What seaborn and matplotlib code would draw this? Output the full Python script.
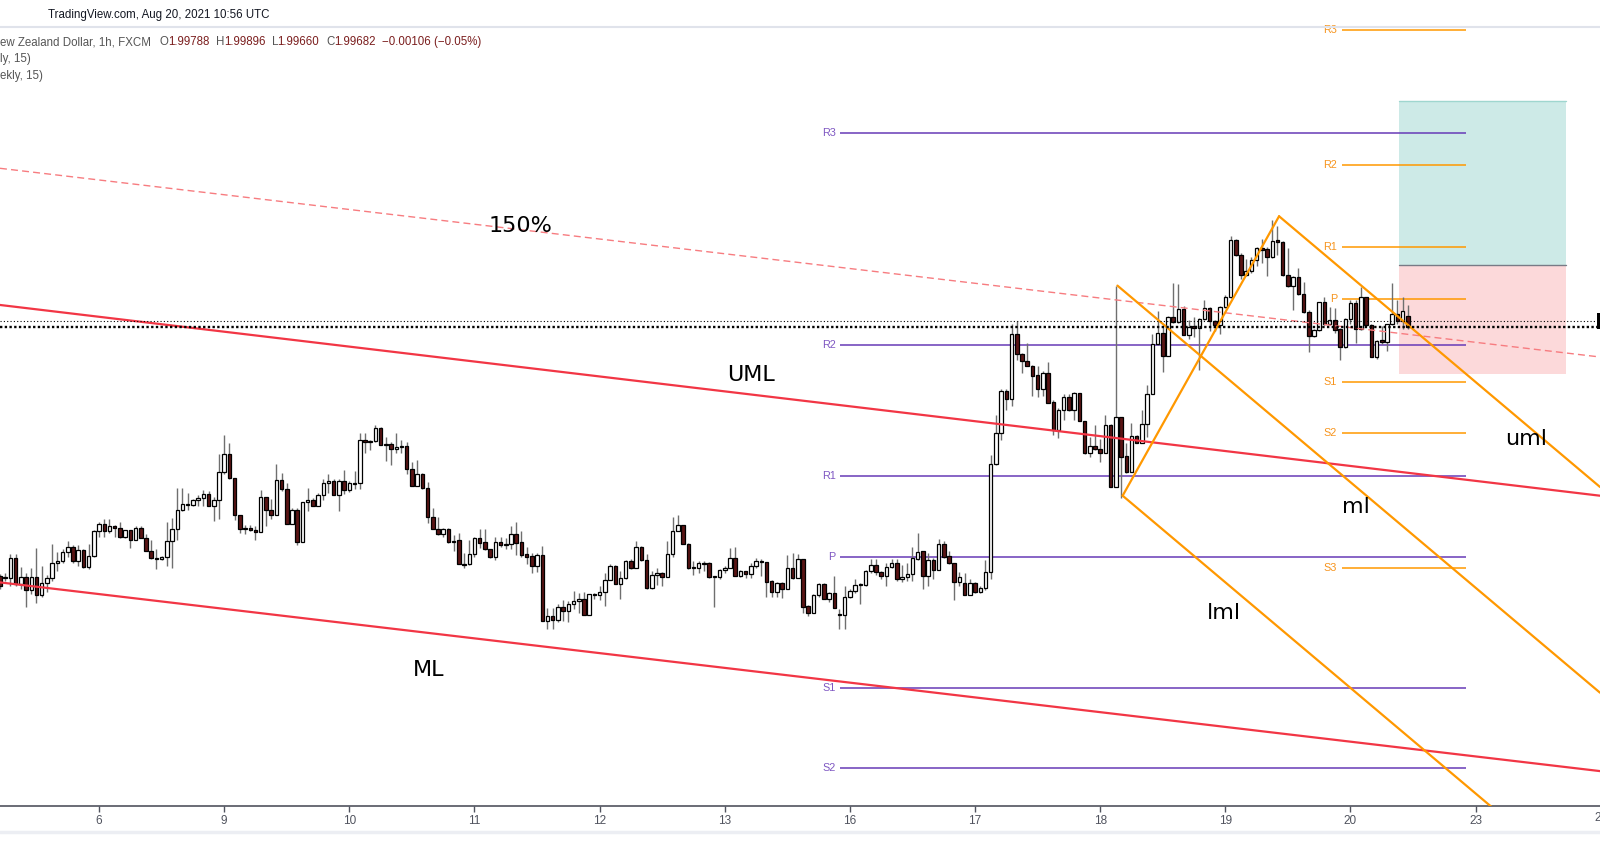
import numpy as np
import pandas as pd
import matplotlib
matplotlib.use("Agg")
import matplotlib.pyplot as plt
import seaborn as sns
from matplotlib.patches import Rectangle
from matplotlib.lines import Line2D

# GBP/NZD 1h candles, Aug 5 - Aug 20 2021
opens = [
    1.9724, 1.9723, 1.9722, 1.9742, 1.9716, 1.9723, 1.9711, 1.9723, 1.9706, 1.9717, 1.9722, 1.9737, 1.9739, 1.9748, 1.9753,
    1.9739, 1.9750, 1.9733, 1.9744, 1.9768, 1.9775, 1.9768, 1.9773, 1.9771, 1.9763, 1.9769, 1.9760, 1.9771, 1.9762, 1.9749,
    1.9742, 1.9741, 1.9743, 1.9759, 1.9770, 1.9789, 1.9795, 1.9794, 1.9799, 1.9801, 1.9805, 1.9793, 1.9799, 1.9826, 1.9844,
    1.9820, 1.9784, 1.9770, 1.9771, 1.9769, 1.9767, 1.9802, 1.9789, 1.9784, 1.9818, 1.9810, 1.9775, 1.9789, 1.9758, 1.9797,
    1.9799, 1.9793, 1.9804, 1.9815, 1.9817, 1.9804, 1.9817, 1.9809, 1.9815, 1.9815, 1.9858, 1.9856, 1.9857, 1.9869, 1.9853,
    1.9854, 1.9849, 1.9851, 1.9852, 1.9829, 1.9813, 1.9824, 1.9811, 1.9782, 1.9770, 1.9765, 1.9770, 1.9758, 1.9760, 1.9736,
    1.9736, 1.9746, 1.9762, 1.9758, 1.9751, 1.9743, 1.9758, 1.9755, 1.9756, 1.9765, 1.9758, 1.9746, 1.9744, 1.9734, 1.9745,
    1.9680, 1.9685, 1.9681, 1.9694, 1.9690, 1.9697, 1.9700, 1.9702, 1.9686, 1.9707, 1.9706, 1.9709, 1.9720, 1.9734, 1.9716,
    1.9722, 1.9739, 1.9732, 1.9753, 1.9740, 1.9713, 1.9725, 1.9727, 1.9723, 1.9746, 1.9768, 1.9774, 1.9756, 1.9733, 1.9732,
    1.9737, 1.9737, 1.9723, 1.9723, 1.9730, 1.9732, 1.9742, 1.9724, 1.9729, 1.9726, 1.9734, 1.9739, 1.9738, 1.9719, 1.9709,
    1.9717, 1.9712, 1.9732, 1.9722, 1.9741, 1.9695, 1.9688, 1.9706, 1.9716, 1.9702, 1.9708, 1.9687, 1.9686, 1.9704, 1.9710,
    1.9716, 1.9715, 1.9729, 1.9735, 1.9728, 1.9724, 1.9733, 1.9737, 1.9721, 1.9723, 1.9726, 1.9741, 1.9749, 1.9724, 1.9740,
    1.9730, 1.9756, 1.9744, 1.9737, 1.9718, 1.9717, 1.9706, 1.9717, 1.9709, 1.9713, 1.9728, 1.9834, 1.9864, 1.9906, 1.9898,
    1.9962, 1.9942, 1.9935, 1.9930, 1.9921, 1.9908, 1.9923, 1.9895, 1.9867, 1.9887, 1.9900, 1.9887, 1.9904, 1.9876, 1.9845,
    1.9852, 1.9849, 1.9845, 1.9872, 1.9812, 1.9880, 1.9842, 1.9826, 1.9862, 1.9855, 1.9873, 1.9903, 1.9952, 1.9963, 1.9940,
    1.9978, 1.9973, 1.9986, 1.9961, 1.9969, 1.9967, 1.9976, 1.9987, 1.9974, 1.9970, 1.9988, 1.9998, 2.0054, 2.0039, 2.0019,
    2.0023, 2.0034, 2.0046, 2.0045, 2.0037, 2.0054, 2.0052, 2.0019, 2.0009, 2.0017, 2.0001, 1.9983, 1.9960, 1.9965, 1.9993,
    1.9971, 1.9975, 1.9966, 1.9949, 1.9976, 1.9992, 1.9966, 1.9998, 1.9970, 1.9939, 1.9956, 1.9954, 1.9971, 1.9981, 1.9974,
    1.99788]
highs = [
    1.9726, 1.9727, 1.9746, 1.9746, 1.9733, 1.9727, 1.9732, 1.9752, 1.9734, 1.9725, 1.9756, 1.9748, 1.9751, 1.9759, 1.9755,
    1.9755, 1.9751, 1.9756, 1.9769, 1.9777, 1.9780, 1.9780, 1.9774, 1.9777, 1.9769, 1.9769, 1.9773, 1.9773, 1.9765, 1.9760,
    1.9751, 1.9744, 1.9777, 1.9781, 1.9811, 1.9811, 1.9806, 1.9800, 1.9804, 1.9809, 1.9808, 1.9802, 1.9844, 1.9863, 1.9855,
    1.9820, 1.9784, 1.9774, 1.9774, 1.9773, 1.9809, 1.9802, 1.9800, 1.9834, 1.9825, 1.9815, 1.9791, 1.9791, 1.9797, 1.9811,
    1.9801, 1.9806, 1.9819, 1.9824, 1.9819, 1.9819, 1.9828, 1.9817, 1.9827, 1.9864, 1.9864, 1.9858, 1.9872, 1.9870, 1.9861,
    1.9856, 1.9864, 1.9858, 1.9856, 1.9836, 1.9838, 1.9825, 1.9816, 1.9791, 1.9782, 1.9771, 1.9771, 1.9764, 1.9766, 1.9747,
    1.9760, 1.9763, 1.9770, 1.9770, 1.9751, 1.9763, 1.9763, 1.9762, 1.9773, 1.9777, 1.9768, 1.9753, 1.9747, 1.9747, 1.9754,
    1.9693, 1.9693, 1.9697, 1.9701, 1.9700, 1.9710, 1.9708, 1.9709, 1.9707, 1.9708, 1.9714, 1.9727, 1.9736, 1.9735, 1.9729,
    1.9740, 1.9741, 1.9759, 1.9754, 1.9746, 1.9729, 1.9732, 1.9728, 1.9759, 1.9782, 1.9784, 1.9774, 1.9757, 1.9739, 1.9739,
    1.9739, 1.9738, 1.9724, 1.9731, 1.9734, 1.9752, 1.9753, 1.9730, 1.9729, 1.9737, 1.9742, 1.9741, 1.9738, 1.9720, 1.9718,
    1.9718, 1.9745, 1.9747, 1.9746, 1.9741, 1.9696, 1.9707, 1.9717, 1.9717, 1.9709, 1.9724, 1.9692, 1.9714, 1.9712, 1.9721,
    1.9717, 1.9730, 1.9741, 1.9741, 1.9729, 1.9737, 1.9741, 1.9741, 1.9735, 1.9737, 1.9753, 1.9766, 1.9749, 1.9747, 1.9742,
    1.9761, 1.9759, 1.9749, 1.9737, 1.9728, 1.9727, 1.9721, 1.9718, 1.9714, 1.9740, 1.9843, 1.9882, 1.9908, 1.9908, 1.9971,
    1.9974, 1.9943, 1.9953, 1.9931, 1.9930, 1.9925, 1.9934, 1.9897, 1.9889, 1.9903, 1.9903, 1.9905, 1.9904, 1.9876, 1.9861,
    1.9872, 1.9859, 1.9882, 1.9873, 2.0009, 1.9880, 1.9855, 1.9874, 1.9863, 1.9887, 1.9912, 1.9962, 1.9984, 1.9969, 1.9979,
    2.0012, 2.0011, 1.9989, 1.9975, 1.9978, 1.9977, 1.9995, 1.9988, 1.9975, 1.9989, 2.0000, 2.0058, 2.0055, 2.0041, 2.0035,
    2.0037, 2.0047, 2.0055, 2.0047, 2.0073, 2.0067, 2.0053, 2.0046, 2.0018, 2.0026, 2.0013, 1.9985, 1.9966, 1.9993, 1.9998,
    1.9988, 1.9987, 1.9967, 1.9977, 1.9995, 1.9995, 2.0008, 1.9998, 1.9971, 1.9956, 1.9969, 1.9971, 2.0012, 1.9995, 1.9998,
    1.99896]
lows = [
    1.9712, 1.9719, 1.9714, 1.9714, 1.9712, 1.9694, 1.9707, 1.9698, 1.9704, 1.9709, 1.9719, 1.9729, 1.9737, 1.9743, 1.9737,
    1.9734, 1.9732, 1.9731, 1.9743, 1.9763, 1.9763, 1.9766, 1.9763, 1.9762, 1.9762, 1.9752, 1.9760, 1.9762, 1.9749, 1.9741,
    1.9731, 1.9740, 1.9734, 1.9732, 1.9760, 1.9788, 1.9789, 1.9793, 1.9793, 1.9793, 1.9793, 1.9778, 1.9780, 1.9824, 1.9819,
    1.9779, 1.9766, 1.9765, 1.9768, 1.9760, 1.9767, 1.9773, 1.9780, 1.9784, 1.9808, 1.9775, 1.9775, 1.9755, 1.9758, 1.9788,
    1.9793, 1.9793, 1.9799, 1.9806, 1.9804, 1.9788, 1.9805, 1.9807, 1.9810, 1.9810, 1.9845, 1.9848, 1.9856, 1.9853, 1.9837,
    1.9833, 1.9845, 1.9845, 1.9824, 1.9813, 1.9813, 1.9810, 1.9776, 1.9770, 1.9764, 1.9763, 1.9757, 1.9749, 1.9736, 1.9732,
    1.9735, 1.9743, 1.9752, 1.9750, 1.9742, 1.9740, 1.9753, 1.9751, 1.9751, 1.9745, 1.9743, 1.9736, 1.9727, 1.9728, 1.9680,
    1.9672, 1.9672, 1.9679, 1.9680, 1.9679, 1.9692, 1.9688, 1.9686, 1.9686, 1.9702, 1.9701, 1.9695, 1.9720, 1.9716, 1.9702,
    1.9721, 1.9731, 1.9732, 1.9739, 1.9712, 1.9712, 1.9715, 1.9714, 1.9723, 1.9743, 1.9768, 1.9756, 1.9731, 1.9725, 1.9727,
    1.9729, 1.9722, 1.9694, 1.9721, 1.9727, 1.9732, 1.9724, 1.9723, 1.9722, 1.9722, 1.9732, 1.9724, 1.9704, 1.9704, 1.9704,
    1.9703, 1.9712, 1.9721, 1.9722, 1.9688, 1.9685, 1.9688, 1.9704, 1.9702, 1.9699, 1.9693, 1.9672, 1.9672, 1.9703, 1.9708,
    1.9697, 1.9714, 1.9727, 1.9725, 1.9721, 1.9714, 1.9732, 1.9719, 1.9718, 1.9719, 1.9719, 1.9740, 1.9712, 1.9714, 1.9721,
    1.9730, 1.9742, 1.9736, 1.9701, 1.9714, 1.9706, 1.9706, 1.9708, 1.9708, 1.9711, 1.9721, 1.9833, 1.9858, 1.9887, 1.9891,
    1.9936, 1.9923, 1.9930, 1.9901, 1.9900, 1.9901, 1.9894, 1.9863, 1.9860, 1.9877, 1.9886, 1.9877, 1.9876, 1.9844, 1.9841,
    1.9848, 1.9836, 1.9845, 1.9812, 1.9812, 1.9801, 1.9825, 1.9826, 1.9855, 1.9855, 1.9861, 1.9903, 1.9951, 1.9924, 1.9940,
    1.9972, 1.9972, 1.9961, 1.9957, 1.9959, 1.9926, 1.9975, 1.9964, 1.9964, 1.9962, 1.9987, 1.9997, 2.0038, 2.0015, 2.0018,
    2.0021, 2.0028, 2.0031, 2.0018, 2.0036, 2.0039, 2.0018, 2.0008, 1.9985, 2.0000, 1.9982, 1.9944, 1.9959, 1.9964, 1.9970,
    1.9970, 1.9963, 1.9936, 1.9948, 1.9971, 1.9953, 1.9965, 1.9969, 1.9939, 1.9937, 1.9952, 1.9945, 1.9970, 1.9971, 1.9966,
    1.99660]
closes = [
    1.9714, 1.9722, 1.9742, 1.9716, 1.9723, 1.9711, 1.9723, 1.9706, 1.9717, 1.9722, 1.9737, 1.9739, 1.9748, 1.9753, 1.9739,
    1.9750, 1.9733, 1.9744, 1.9768, 1.9775, 1.9768, 1.9773, 1.9771, 1.9763, 1.9769, 1.9760, 1.9771, 1.9762, 1.9749, 1.9742,
    1.9741, 1.9743, 1.9759, 1.9770, 1.9789, 1.9795, 1.9794, 1.9799, 1.9801, 1.9805, 1.9793, 1.9799, 1.9826, 1.9844, 1.9820,
    1.9784, 1.9770, 1.9771, 1.9769, 1.9767, 1.9802, 1.9789, 1.9784, 1.9818, 1.9810, 1.9775, 1.9789, 1.9758, 1.9797, 1.9799,
    1.9793, 1.9804, 1.9815, 1.9817, 1.9804, 1.9817, 1.9809, 1.9815, 1.9814, 1.9858, 1.9856, 1.9857, 1.9869, 1.9853, 1.9854,
    1.9849, 1.9851, 1.9852, 1.9829, 1.9813, 1.9824, 1.9811, 1.9782, 1.9770, 1.9765, 1.9770, 1.9758, 1.9759, 1.9736, 1.9735,
    1.9746, 1.9762, 1.9757, 1.9751, 1.9743, 1.9758, 1.9755, 1.9756, 1.9765, 1.9757, 1.9745, 1.9743, 1.9734, 1.9745, 1.9680,
    1.9685, 1.9681, 1.9694, 1.9690, 1.9697, 1.9700, 1.9702, 1.9686, 1.9707, 1.9706, 1.9709, 1.9720, 1.9734, 1.9716, 1.9722,
    1.9739, 1.9732, 1.9753, 1.9740, 1.9713, 1.9725, 1.9727, 1.9723, 1.9746, 1.9768, 1.9774, 1.9756, 1.9732, 1.9732, 1.9737,
    1.9736, 1.9723, 1.9724, 1.9730, 1.9732, 1.9742, 1.9724, 1.9729, 1.9726, 1.9734, 1.9739, 1.9738, 1.9718, 1.9709, 1.9717,
    1.9712, 1.9732, 1.9722, 1.9741, 1.9694, 1.9688, 1.9706, 1.9716, 1.9702, 1.9708, 1.9693, 1.9686, 1.9704, 1.9710, 1.9715,
    1.9715, 1.9729, 1.9735, 1.9728, 1.9724, 1.9733, 1.9737, 1.9721, 1.9723, 1.9726, 1.9742, 1.9748, 1.9724, 1.9740, 1.9730,
    1.9756, 1.9743, 1.9737, 1.9718, 1.9723, 1.9706, 1.9717, 1.9709, 1.9713, 1.9728, 1.9834, 1.9864, 1.9906, 1.9898, 1.9962,
    1.9942, 1.9935, 1.9930, 1.9920, 1.9908, 1.9923, 1.9894, 1.9867, 1.9887, 1.9900, 1.9887, 1.9904, 1.9876, 1.9845, 1.9852,
    1.9849, 1.9845, 1.9872, 1.9812, 1.9880, 1.9841, 1.9826, 1.9862, 1.9855, 1.9873, 1.9903, 1.9952, 1.9963, 1.9940, 1.9978,
    1.9973, 1.9986, 1.9961, 1.9968, 1.9967, 1.9976, 1.9987, 1.9974, 1.9970, 1.9988, 1.9998, 2.0054, 2.0039, 2.0019, 2.0023,
    2.0034, 2.0046, 2.0044, 2.0037, 2.0053, 2.0052, 2.0019, 2.0009, 2.0017, 2.0001, 1.9983, 1.9960, 1.9965, 1.9993, 1.9971,
    1.9975, 1.9965, 1.9949, 1.9976, 1.9992, 1.9966, 1.9998, 1.9970, 1.9939, 1.9955, 1.9954, 1.9971, 1.9981, 1.9974, 1.9984,
    1.99682]

# x axis: hour index of each day's first candle
day_pos = [19, 43, 67, 91, 115, 139, 163, 187, 211, 235, 259, 283, 307]
day_labels = ['6', '9', '10', '11', '12', '13', '16', '17', '18', '19', '20', '23', '24']

# pivot points (weekly purple, daily orange)
weekly_names = ['R3', 'R2', 'R1', 'P', 'S1', 'S2']
weekly_levels = [2.0159, 1.9951, 1.9822, 1.9743, 1.9614, 1.9536]
daily_names = ['R3', 'R2', 'R1', 'P', 'S1', 'S2', 'S3']
daily_levels = [2.0260, 2.0127, 2.0047, 1.9996, 1.9914, 1.9864, 1.9732]

# drawn trend lines: (x0, y0), (x1, y1)
uml_line = [(0, 1.9990), (306.85, 1.9803)]
ml_line = [(0, 1.9718), (306.85, 1.9533)]
line_150 = [(0, 2.0124), (306.85, 1.9939)]

# pitchfork anchors A, B, C
fork_a = (214.3, 2.0009)
fork_b = (215.3, 1.9803)
fork_c = (245.3, 2.0077)

# long position tool
pos_x = (268.3, 300.3)
pos_entry, pos_target, pos_stop = 2.0029, 2.0190, 1.9922

ask_line = 1.9974

sns.set_style("white")
plt.rcParams['font.family'] = ['DejaVu Sans']

W, H = 1568.0, 851.0
fig = plt.figure(figsize=(16, 8.68), dpi=100)
ax = fig.add_axes([0, 1 - 790 / H, 1, (790 - 26) / H])
x_end = 306.85

o = np.array(opens); hi = np.array(highs); lo = np.array(lows); c = np.array(closes)
xs = np.arange(len(c))
up = c > o
dn = c < o
flat = c == o
body_lo = np.minimum(o, c)
body_h = np.maximum(np.abs(c - o), 0.00002)

# position box
ax.add_patch(Rectangle((pos_x[0], pos_entry), pos_x[1] - pos_x[0], pos_target - pos_entry,
                       fc='#cdeae7', ec='none', zorder=1))
ax.add_patch(Rectangle((pos_x[0], pos_stop), pos_x[1] - pos_x[0], pos_entry - pos_stop,
                       fc='#fcd9da', ec='none', zorder=1))
ax.plot(pos_x, [pos_target] * 2, color='#9fd6cf', lw=1, zorder=1.5)
ax.plot(pos_x, [pos_entry] * 2, color='#787b86', lw=1, zorder=1.5)

# pivots
for name, lev in zip(weekly_names, weekly_levels):
    ax.hlines(lev, 161.1, 281.2, color='#673ab7', lw=1.1, zorder=2)
    ax.text(160.3, lev, name, ha='right', va='center', fontsize=7.8, color='#7e57c2',
            family='Liberation Sans')
for name, lev in zip(daily_names, daily_levels):
    ax.hlines(lev, 257.3, 281.2, color='#ff9800', lw=1.1, zorder=2)
    ax.text(256.4, lev, name, ha='right', va='center', fontsize=7.8, color='#f7941d',
            family='Liberation Sans')

# candles
ax.vlines(xs, lo, hi, color='#6f6f6f', lw=1.0, zorder=3)
ax.bar(xs[up], body_h[up], bottom=body_lo[up], width=0.68, color='white',
       edgecolor='black', linewidth=0.9, zorder=4)
ax.bar(xs[dn], body_h[dn], bottom=body_lo[dn], width=0.68, color='#5a1414',
       edgecolor='black', linewidth=0.9, zorder=4)
ax.bar(xs[flat], body_h[flat], bottom=body_lo[flat], width=0.68, color='black',
       edgecolor='black', linewidth=0.9, zorder=4)

# red trend lines
trend = pd.DataFrame({
    'x': [p[0] for p in uml_line + ml_line],
    'y': [p[1] for p in uml_line + ml_line],
    'name': ['UML', 'UML', 'ML', 'ML'],
})
sns.lineplot(data=trend, x='x', y='y', units='name', estimator=None, color='#f23645',
             linewidth=1.6, ax=ax, legend=False, zorder=5)
ax.plot([p[0] for p in line_150], [p[1] for p in line_150], color='#f77c80', lw=1.0,
        ls=(0, (5, 3)), zorder=5)

# pitchfork
mid = ((fork_b[0] + fork_c[0]) / 2, (fork_b[1] + fork_c[1]) / 2)
slope = (mid[1] - fork_a[1]) / (mid[0] - fork_a[0])
fk = dict(color='#ff9800', lw=1.6, zorder=5, solid_capstyle='round')
ax.plot([fork_b[0], fork_c[0]], [fork_b[1], fork_c[1]], **fk)
for px, py in (fork_a, fork_b, fork_c):
    ax.plot([px, x_end], [py, py + slope * (x_end - px)], **fk)

# last price lines
ax.axhline(ask_line, color='black', lw=0.8, ls=(0, (1, 2)), zorder=6)
ax.axhline(closes[-1], color='black', lw=1.7, ls=(0, (1, 1)), zorder=6)
ax.add_patch(Rectangle((306.2, 1.9966), 2, 0.0016, fc='black', ec='none', zorder=7, clip_on=False))

# drawing labels
lab = dict(fontsize=16, color='black', ha='center', va='center', zorder=8)
ax.text(99.8, 2.0067, '150%', **lab)
ax.text(144.0, 1.9921, 'UML', **lab)
ax.text(82.2, 1.9632, 'ML', **lab)
ax.text(292.6, 1.9859, 'uml', **lab)
ax.text(260.1, 1.9792, 'ml', **lab)
ax.text(234.8, 1.9688, 'lml', **lab)

ax.set_xlim(0, x_end)
ax.set_ylim(1.9499, 2.0263)
ax.set_xlabel('')
ax.set_ylabel('')
ax.set_yticks([])
ax.set_xticks(day_pos[:-1], day_labels[:-1])
for t in ax.get_xticklabels():
    t.set_family('Liberation Sans')
ax.tick_params(axis='x', bottom=True, length=4, width=1, color='#50535e',
               labelsize=8.5, labelcolor='#50535e', pad=2.5)
for s in ('top', 'left', 'right'):
    ax.spines[s].set_visible(False)
ax.spines['bottom'].set_color('#50535e')
ax.spines['bottom'].set_linewidth(1.2)
ax.patch.set_alpha(0)
# the "24" label sits on the right edge and is cut, as in the source
fig.text((day_pos[-1] * 5.11) / W, 1 - 802 / H, day_labels[-1], ha='center', va='center',
         fontsize=8.5, color='#50535e', family='Liberation Sans')

# header and legend
fig.add_artist(Line2D([0, 1], [1 - 26 / H] * 2, color='#e0e3eb', lw=1.5))
fig.add_artist(Line2D([0, 1], [1 - 816 / H] * 2, color='#eceef3', lw=2.5))
fig.text(47 / W, 1 - 14.5 / H, 'TradingView.com, Aug 20, 2021 10:56 UTC', ha='left', va='center',
         fontsize=8.3, color='#131722', family='Liberation Sans')
gray, red = '#555555', '#7b1e1e'
legend_parts = [
    ('ew Zealand Dollar, 1h, FXCM', 0, gray),
    ('O', 156, gray), (f'{opens[-1]:.5f}', 165, red),
    ('H', 212, gray), (f'{highs[-1]:.5f}', 219.5, red),
    ('L', 267, gray), (f'{lows[-1]:.5f}', 272, red),
    ('C', 320, gray), (f'{closes[-1]:.5f}', 327, red),
    ('\u22120.00106 (\u22120.05%)', 374, red),
]
for txt, px, col in legend_parts:
    fig.text(px / W, 1 - 41.5 / H, txt, ha='left', va='center', fontsize=8.3, color=col,
             family='Liberation Sans')
fig.text(0, 1 - 57.8 / H, 'ly, 15)', ha='left', va='center', fontsize=8.3, color=gray,
         family='Liberation Sans')
fig.text(0, 1 - 74.5 / H, 'ekly, 15)', ha='left', va='center', fontsize=8.3, color=gray,
         family='Liberation Sans')

fig.savefig('out.png', dpi=100, facecolor='white')
